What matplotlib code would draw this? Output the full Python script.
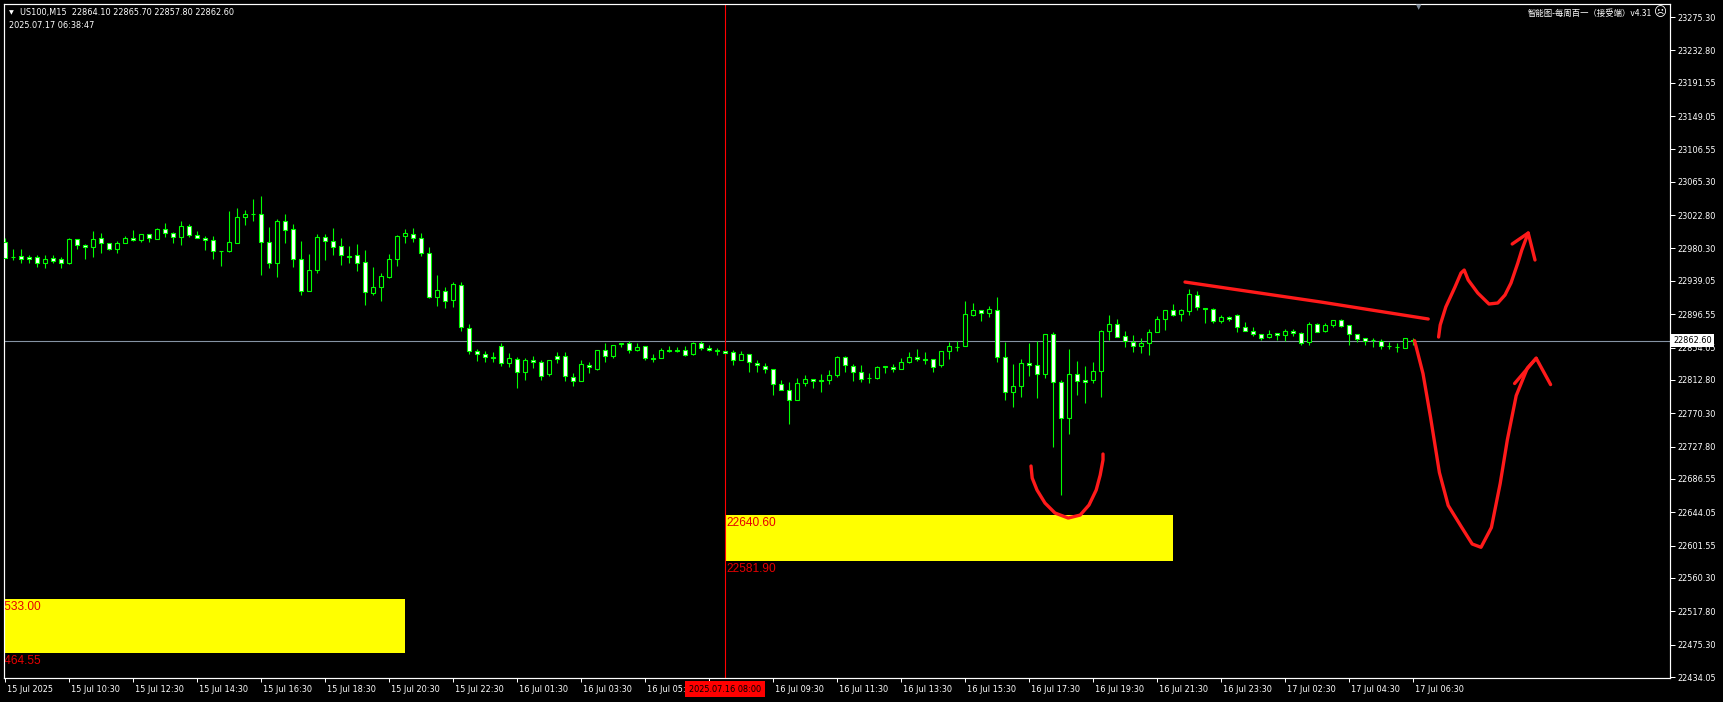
import matplotlib
matplotlib.use("Agg")
import matplotlib.pyplot as plt
from matplotlib.patches import Rectangle
from matplotlib.transforms import blended_transform_factory, ScaledTranslation

plt.rcParams['font.family'] = ['DejaVu Sans']

W, H = 1723, 702

# M15 bars, index 0 = 15 Jul 08:30 ... 176 = 17 Jul 06:30
opens = [22988.1, 22970.0, 22970.2, 22969.0, 22969.0, 22961.3, 22967.7, 22966.4, 22961.3, 22991.9,
         22984.3, 22981.7, 22993.2, 22986.8, 22979.2, 22986.8, 22993.2, 22990.6, 22998.3, 22992.8,
         23004.7, 22999.6, 22994.5, 23008.5, 22997.0, 22993.2, 22990.6, 22977.5, 22977.5, 22987.7,
         23020.0, 23023.8, 23023.8, 22988.1, 22962.2, 23014.9, 23004.7, 22966.4, 22925.6, 22952.4,
         22994.5, 22989.4, 22983.0, 22970.2, 22971.5, 22962.6, 22923.1, 22930.7, 22944.3, 22966.4,
         22995.7, 22998.3, 22993.2, 22974.1, 22918.0, 22925.6, 22914.2, 22933.3, 22878.5, 22849.2,
         22845.8, 22841.5, 22855.5, 22833.9, 22839.0, 22822.4, 22837.7, 22835.1, 22819.8, 22842.8,
         22842.8, 22816.0, 22810.9, 22831.3, 22826.6, 22850.4, 22842.8, 22858.1, 22859.4, 22850.4,
         22855.5, 22840.2, 22840.2, 22850.4, 22850.4, 22850.4, 22845.3, 22859.4, 22853.0, 22849.2,
         22849.2, 22847.9, 22837.7, 22845.3, 22833.9, 22830.0, 22826.2, 22807.1, 22799.5, 22786.7,
         22808.4, 22813.5, 22812.2, 22812.2, 22818.6, 22841.5, 22830.0, 22822.4, 22814.8, 22814.7,
         22828.8, 22828.8, 22826.2, 22835.1, 22841.5, 22839.0, 22839.0, 22831.3, 22849.2, 22854.3,
         22855.5, 22895.1, 22901.4, 22897.6, 22901.4, 22841.5, 22796.9, 22804.6, 22833.9, 22831.3,
         22819.9, 22870.8, 22809.7, 22763.8, 22819.9, 22812.2, 22812.2, 22823.7, 22874.7, 22883.6,
         22868.3, 22860.6, 22855.5, 22859.4, 22873.4, 22890.0, 22901.4, 22896.3, 22900.2, 22920.6,
         22904.0, 22902.7, 22887.4, 22892.5, 22895.1, 22879.8, 22874.7, 22870.8, 22867.0, 22872.1,
         22869.6, 22874.7, 22872.1, 22860.6, 22883.6, 22874.7, 22882.7, 22888.6, 22882.3, 22870.8,
         22865.7, 22863.6, 22862.7, 22856.4, 22855.1, 22853.8, 22864.1]
highs = [22993.2, 22979.2, 22979.2, 22971.5, 22971.5, 22971.5, 22971.5, 22969.0, 22993.2, 22991.9,
         22986.0, 23002.1, 22999.6, 22986.8, 22989.4, 22995.7, 23003.4, 22998.3, 22998.3, 23005.9,
         23012.3, 23000.8, 23014.9, 23011.0, 23002.1, 22995.7, 22995.7, 22977.5, 23027.6, 23031.4,
         23028.9, 23042.9, 23047.2, 23007.2, 23017.4, 23023.8, 23011.5, 22989.4, 22972.8, 22998.3,
         22998.3, 23005.9, 22993.2, 22983.0, 22985.5, 22977.9, 22956.2, 22948.6, 22972.8, 22997.0,
         23004.7, 23005.9, 22999.6, 22981.7, 22946.0, 22930.7, 22937.1, 22937.1, 22883.6, 22852.1,
         22849.6, 22848.3, 22860.2, 22846.6, 22841.5, 22840.2, 22843.2, 22837.7, 22837.7, 22848.3,
         22848.3, 22821.1, 22837.7, 22835.1, 22850.4, 22859.4, 22856.8, 22859.4, 22861.9, 22859.4,
         22855.5, 22845.3, 22853.0, 22855.5, 22854.3, 22855.5, 22860.6, 22861.9, 22856.8, 22853.0,
         22849.2, 22850.4, 22849.2, 22845.3, 22837.7, 22833.9, 22826.2, 22812.2, 22809.7, 22814.7,
         22818.6, 22813.5, 22819.8, 22824.9, 22842.8, 22842.8, 22832.6, 22831.3, 22821.1, 22830.0,
         22830.0, 22832.6, 22840.2, 22847.9, 22851.7, 22847.9, 22839.0, 22849.2, 22860.6, 22861.9,
         22912.9, 22910.4, 22901.4, 22906.5, 22918.0, 22860.6, 22832.6, 22839.0, 22859.4, 22861.9,
         22870.8, 22873.4, 22812.2, 22851.7, 22836.4, 22830.0, 22835.2, 22876.0, 22895.1, 22890.0,
         22874.7, 22869.6, 22865.7, 22877.2, 22893.8, 22901.4, 22909.1, 22902.7, 22928.2, 22925.7,
         22904.0, 22904.0, 22895.1, 22893.8, 22896.3, 22886.1, 22879.8, 22870.8, 22876.0, 22872.1,
         22877.2, 22877.2, 22873.4, 22886.1, 22884.9, 22884.9, 22888.6, 22890.3, 22882.3, 22870.8,
         22865.7, 22866.1, 22864.4, 22860.6, 22859.3, 22865.7, 22865.7]
lows = [22967.7, 22965.6, 22962.2, 22961.3, 22957.1, 22955.8, 22961.3, 22955.8, 22960.0, 22980.0,
        22967.3, 22969.8, 22974.1, 22978.3, 22974.1, 22986.8, 22989.4, 22988.1, 22988.1, 22991.9,
        22995.3, 22986.8, 22984.3, 22994.5, 22993.2, 22977.9, 22967.3, 22958.3, 22975.8, 22986.8,
        23010.6, 23015.7, 22946.9, 22955.8, 22944.3, 22986.8, 22957.1, 22921.4, 22925.6, 22948.6,
        22966.0, 22971.5, 22959.6, 22962.2, 22952.0, 22908.6, 22921.4, 22913.7, 22943.1, 22958.3,
        22986.8, 22988.9, 22971.1, 22917.6, 22907.4, 22904.8, 22906.1, 22875.5, 22845.3, 22837.3,
        22835.6, 22835.6, 22830.5, 22829.6, 22802.9, 22812.6, 22827.5, 22812.6, 22817.3, 22833.9,
        22811.8, 22805.4, 22810.9, 22821.1, 22825.8, 22835.1, 22840.2, 22854.3, 22846.6, 22849.2,
        22837.7, 22835.1, 22840.2, 22847.9, 22847.9, 22842.8, 22844.1, 22850.4, 22849.2, 22844.1,
        22846.6, 22831.3, 22837.7, 22822.4, 22823.2, 22821.1, 22793.9, 22799.5, 22757.0, 22786.7,
        22805.4, 22802.9, 22797.8, 22807.1, 22816.9, 22822.4, 22810.9, 22809.7, 22808.4, 22813.5,
        22821.1, 22822.4, 22826.2, 22833.9, 22836.4, 22833.5, 22823.3, 22828.8, 22839.0, 22849.2,
        22855.5, 22893.8, 22887.4, 22892.5, 22835.2, 22786.7, 22777.8, 22790.5, 22817.3, 22789.3,
        22814.8, 22727.7, 22665.6, 22743.4, 22793.1, 22782.9, 22808.4, 22790.5, 22863.2, 22867.0,
        22854.3, 22847.9, 22846.6, 22844.1, 22873.4, 22876.0, 22893.8, 22887.4, 22895.1, 22901.4,
        22884.9, 22884.9, 22884.9, 22887.4, 22873.4, 22874.7, 22868.3, 22863.2, 22865.7, 22863.2,
        22861.9, 22868.3, 22856.8, 22856.8, 22873.4, 22873.4, 22880.6, 22880.6, 22857.6, 22860.6,
        22856.8, 22855.1, 22852.5, 22852.5, 22848.7, 22853.8, 22857.8]
closes = [22968.5, 22969.5, 22966.4, 22966.8, 22961.3, 22966.4, 22964.7, 22961.3, 22991.9, 22984.3,
          22981.7, 22991.9, 22986.8, 22979.2, 22986.8, 22993.2, 22990.6, 22998.3, 22993.2, 23004.7,
          22999.6, 22994.5, 23008.5, 22997.0, 22993.2, 22990.6, 22976.6, 22977.1, 22988.1, 23020.0,
          23023.8, 23023.6, 22988.1, 22961.3, 23014.9, 23003.4, 22967.3, 22925.6, 22952.4, 22994.5,
          22989.4, 22982.6, 22971.5, 22970.0, 22961.3, 22924.4, 22930.7, 22944.8, 22966.4, 22995.7,
          22999.6, 22993.2, 22974.1, 22918.8, 22926.9, 22912.9, 22934.6, 22879.7, 22849.2, 22845.3,
          22841.5, 22841.3, 22833.9, 22840.2, 22822.4, 22837.7, 22835.1, 22817.3, 22837.7, 22839.0,
          22817.3, 22810.9, 22832.6, 22828.8, 22850.4, 22842.8, 22856.8, 22859.4, 22850.4, 22854.3,
          22840.2, 22840.0, 22850.4, 22850.2, 22850.2, 22844.1, 22859.4, 22853.0, 22850.4, 22850.4,
          22846.6, 22837.7, 22845.3, 22835.1, 22831.3, 22826.2, 22807.1, 22799.5, 22786.7, 22808.4,
          22813.5, 22810.9, 22812.0, 22818.6, 22841.5, 22831.3, 22822.4, 22813.5, 22814.7, 22828.8,
          22830.0, 22826.2, 22835.1, 22841.5, 22839.0, 22838.7, 22829.6, 22849.2, 22855.5, 22854.5,
          22896.3, 22901.4, 22897.6, 22902.7, 22841.5, 22796.9, 22804.6, 22833.9, 22831.3, 22819.9,
          22870.8, 22809.7, 22763.8, 22819.9, 22810.9, 22809.7, 22823.7, 22874.7, 22883.6, 22867.0,
          22861.9, 22855.5, 22859.4, 22873.4, 22890.0, 22901.4, 22895.1, 22901.4, 22921.8, 22905.3,
          22902.7, 22887.4, 22892.5, 22890.0, 22879.8, 22874.7, 22870.8, 22865.7, 22870.8, 22869.6,
          22874.7, 22872.1, 22859.4, 22883.6, 22873.4, 22882.3, 22888.6, 22881.8, 22870.8, 22865.3,
          22861.9, 22863.5, 22856.4, 22856.3, 22855.0, 22865.7, 22862.6]

# tick at bar 88 (16 Jul 07:30) is hidden under the cursor date box
x_tick_bars = list(range(0, 177, 8))
x_tick_labels = ["15 Jul 2025", "15 Jul 10:30", "15 Jul 12:30", "15 Jul 14:30", "15 Jul 16:30",
                 "15 Jul 18:30", "15 Jul 20:30", "15 Jul 22:30", "16 Jul 01:30", "16 Jul 03:30",
                 "16 Jul 05:30", "", "16 Jul 09:30", "16 Jul 11:30", "16 Jul 13:30",
                 "16 Jul 15:30", "16 Jul 17:30", "16 Jul 19:30", "16 Jul 21:30", "16 Jul 23:30",
                 "17 Jul 02:30", "17 Jul 04:30", "17 Jul 06:30"]
y_ticks = [23275.30, 23232.80, 23191.55, 23149.05, 23106.55, 23065.30, 23022.80, 22980.30,
           22939.05, 22896.55, 22854.05, 22812.80, 22770.30, 22727.80, 22686.55, 22644.05,
           22601.55, 22560.30, 22517.80, 22475.30, 22434.05]

last_price = 22862.60
cursor_bar = 90
cursor_text = "2025.07.16 08:00"

# yellow zones: (start bar, end bar, low, high)
zone1 = (-6, 50, 22464.55, 22533.00)
zone2 = (90, 146, 22581.90, 22640.60)

# hand drawn red marks (bar, price)
u_bars = [128.25, 128.4, 129.0, 130.0, 131.25, 132.9, 134.4, 135.5, 136.4, 136.9, 137.25, 137.25]
u_prices = [22703.0, 22687.7, 22672.4, 22655.8, 22643.1, 22636.7, 22640.5, 22653.3, 22672.4,
            22691.5, 22710.7, 22718.3]
trend_bars = [147.5, 164.5, 177.9]
trend_prices = [22937.5, 22912.0, 22890.4]
up_bars = [179.2, 179.4, 180.1, 181.25, 182.0, 182.4, 182.9, 184.1, 185.5, 186.6, 187.5, 188.25,
           189.1, 189.6, 190.4]
up_prices = [22867.4, 22882.7, 22905.7, 22931.2, 22949.0, 22952.8, 22940.1, 22923.5, 22909.5,
             22910.8, 22921.0, 22936.3, 22961.7, 22978.3, 23000.0]
up_head_bars = [188.4, 190.4, 191.25]
up_head_prices = [22986.0, 23000.0, 22965.6]
down_bars = [176.2, 177.25, 178.2, 179.3, 180.4, 182.1, 183.4, 184.5, 185.8, 186.9, 187.8, 188.9,
             190.3, 191.4]
down_prices = [22862.7, 22820.8, 22764.7, 22694.7, 22652.7, 22624.6, 22603.6, 22599.4, 22624.6,
               22680.7, 22736.7, 22792.7, 22827.9, 22840.4]
down_head_bars = [188.7, 191.4, 193.2]
down_head_prices = [22808.2, 22840.4, 22806.8]

GREEN = "#00FF00"
px = 0.72  # one pixel in points

fig = plt.figure(figsize=(W / 100, H / 100), dpi=100, facecolor="black")
ax = fig.add_axes([4 / W, 1 - 678 / H, 1666 / W, 674 / H], facecolor="black")
ax.set_xlim(-0.125, 208.125)
ax.set_ylim(22432.8, 23291.9)

# zones
for b0, b1, lo, hi in (zone1, zone2):
    ax.add_patch(Rectangle((b0, lo), b1 - b0, hi - lo, facecolor="#FFFF00", edgecolor="none", zorder=1))

red_txt = "#E60000"
below = ScaledTranslation(1 / 100, -2 / 100, fig.dpi_scale_trans)
# labels of the left zone start off screen, only their tail shows
ax.text(-1.8, zone1[3], "22533.00", color=red_txt, fontsize=8.6, family="Liberation Sans",
        va="top", ha="left", zorder=2, clip_on=True, transform=ax.transData + below)
ax.text(-1.8, zone1[2], "22464.55", color=red_txt, fontsize=8.6, family="Liberation Sans",
        va="top", ha="left", zorder=2, clip_on=True, transform=ax.transData + below)
ax.text(zone2[0], zone2[3], "22640.60", color=red_txt, fontsize=8.6, family="Liberation Sans",
        va="top", ha="left", zorder=2, transform=ax.transData + below)
ax.text(zone2[0], zone2[2], "22581.90", color=red_txt, fontsize=8.6, family="Liberation Sans",
        va="top", ha="left", zorder=2, transform=ax.transData + below)

# current price line and cursor line
ax.axhline(last_price, color="#8593A3", lw=1.1 * px, zorder=2)
ax.axvline(cursor_bar, color="#FF0000", lw=1.1 * px, zorder=2)

# candles
xs = list(range(len(opens)))
ax.vlines(xs, lows, highs, color=GREEN, lw=1.1 * px, zorder=3)
for i, (o, c) in enumerate(zip(opens, closes)):
    bottom = min(o, c)
    height = abs(c - o)
    face = "white" if c < o else "black"
    ax.bar(i, height, bottom=bottom, width=0.52, facecolor=face, edgecolor=GREEN,
           linewidth=1.1 * px, zorder=4)

# red hand drawings
rkw = dict(color="#FF1A1A", lw=2.4, solid_capstyle="round", solid_joinstyle="round", zorder=6)
ax.plot(u_bars, u_prices, **rkw)
ax.plot(trend_bars, trend_prices, **rkw)
ax.plot(up_bars, up_prices, **rkw)
ax.plot(up_head_bars, up_head_prices, **rkw)
ax.plot(down_bars, down_prices, **rkw)
ax.plot(down_head_bars, down_head_prices, **rkw)

# frame
for s in ax.spines.values():
    s.set_color("white")
    s.set_linewidth(1.2 * px)

# y axis on the right
ax.yaxis.tick_right()
ax.set_yticks(y_ticks)
ax.set_yticklabels([f"{v:.2f}" for v in y_ticks])
ax.tick_params(axis="y", colors="white", labelcolor="white", length=3.5, width=px,
               labelsize=5.9, pad=1.5)
ax.set_xticks(x_tick_bars)
ax.tick_params(axis="x", colors="white", length=3, width=px, labelbottom=False)

# x labels, drawn left aligned just after each tick
xl_tr = blended_transform_factory(ax.transData, fig.transFigure) + \
    ScaledTranslation(2 / 100, 0, fig.dpi_scale_trans)
for b, lab in zip(x_tick_bars, x_tick_labels):
    if lab:
        ax.text(b, 1 - 689 / H, lab, transform=xl_tr, color="white", fontsize=5.9,
                ha="left", va="center", clip_on=False, zorder=5)

cur_tr = blended_transform_factory(ax.transData, fig.transFigure)
ax.text(cursor_bar, 1 - 689 / H, cursor_text, transform=cur_tr, color="black", fontsize=5.9,
        ha="center", va="center", clip_on=False, zorder=8,
        bbox=dict(boxstyle="square,pad=0.45", facecolor="#FF0000", edgecolor="none"))

# last price label
lp_tr = blended_transform_factory(fig.transFigure, ax.transData)
ax.text(1673 / W, last_price, f"{last_price:.2f}", transform=lp_tr, color="black", fontsize=5.9,
        ha="left", va="center", clip_on=False, zorder=8,
        bbox=dict(boxstyle="square,pad=0.25", facecolor="white", edgecolor="none"))

# header
fig.text(11 / W, 1 - 13 / H, "\u25bc", color="white", fontsize=4.5, ha="center", va="center")
fig.text(20 / W, 1 - 13 / H, "US100,M15  22864.10 22865.70 22857.80 22862.60", color="white",
         fontsize=5.9, ha="left", va="center")
fig.text(9 / W, 1 - 25 / H, "2025.07.17 06:38:47", color="white", fontsize=5.9,
         ha="left", va="center")
fig.text(1652 / W, 1 - 13 / H, "智能图-每周百一（接受端）v4.31", color="white", fontsize=6,
         ha="right", va="center", family=["Noto Sans CJK SC", "DejaVu Sans"])
fig.text(1660 / W, 1 - 13 / H, "\u2639", color="white", fontsize=9, ha="center", va="center")
fig.text(1419 / W, 1 - 7 / H, "\u25bc", color="#7A8796", fontsize=5, ha="center", va="center")

fig.savefig("out.png", dpi=100, facecolor="black")
